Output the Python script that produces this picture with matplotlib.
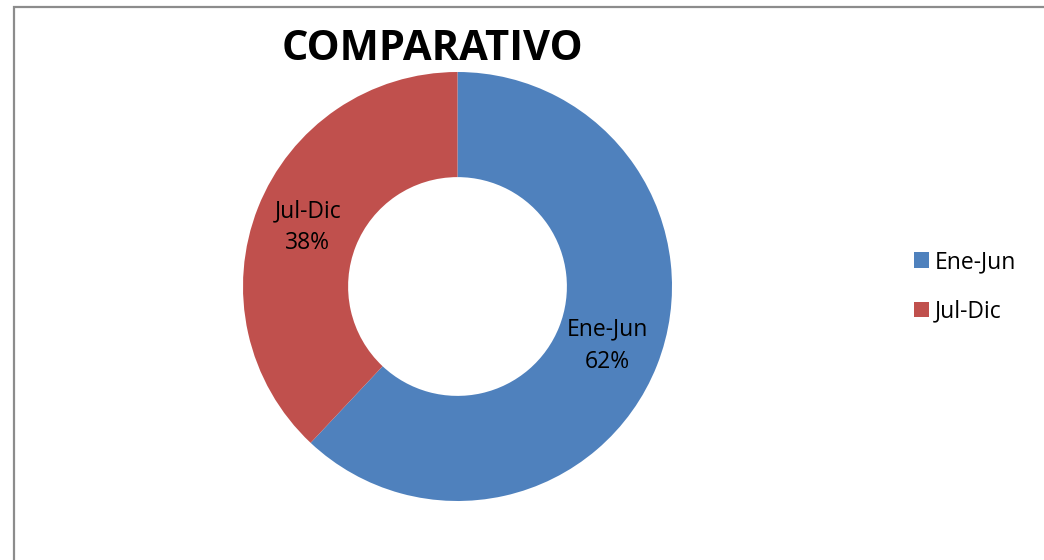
import matplotlib.pyplot as plt
from matplotlib.patches import Rectangle

plt.rcParams['font.family'] = ['Open Sans', 'DejaVu Sans']

# data
labels = ['Ene-Jun', 'Jul-Dic']
values = [62, 38]
colors = ['#4F81BD', '#C0504D']

fig = plt.figure(figsize=(10.44, 5.6), dpi=100)

# chart area border (right and bottom edges run off the picture)
fig.patches.append(Rectangle((14 / 1044, -0.1), 1.2, (560 - 7) / 560 + 0.1,
                             transform=fig.transFigure, fill=False,
                             edgecolor='#8c8c8c', linewidth=1.6))

ax = fig.add_axes([243 / 1044, 59 / 560, 429 / 1044, 429 / 560])
wedges, texts, autotexts = ax.pie(
    values, colors=colors, startangle=90, counterclock=False,
    radius=1.0, wedgeprops=dict(width=0.49, linewidth=0),
    autopct=lambda p: '', pctdistance=0.75)

for t, lab, v in zip(autotexts, labels, values):
    t.set_text(f'{lab}\n{v}%')
    t.set_fontsize(16.5)
    t.set_color('black')
    t.set_linespacing(1.45)

ax.set_xlim(-1, 1)
ax.set_ylim(-1, 1)
ax.set_aspect('equal')

fig.text(432 / 1044, (560 - 50) / 560, 'COMPARATIVO', ha='center', va='center',
         fontsize=30, fontweight='bold')

fig.legend(wedges, labels, loc='center left', bbox_to_anchor=(893 / 1044, (560 - 287) / 560),
           frameon=False, fontsize=16.5, handlelength=0.68, handleheight=0.68,
           handletextpad=0.25, labelspacing=1.1)

fig.savefig('out.png', dpi=100)
